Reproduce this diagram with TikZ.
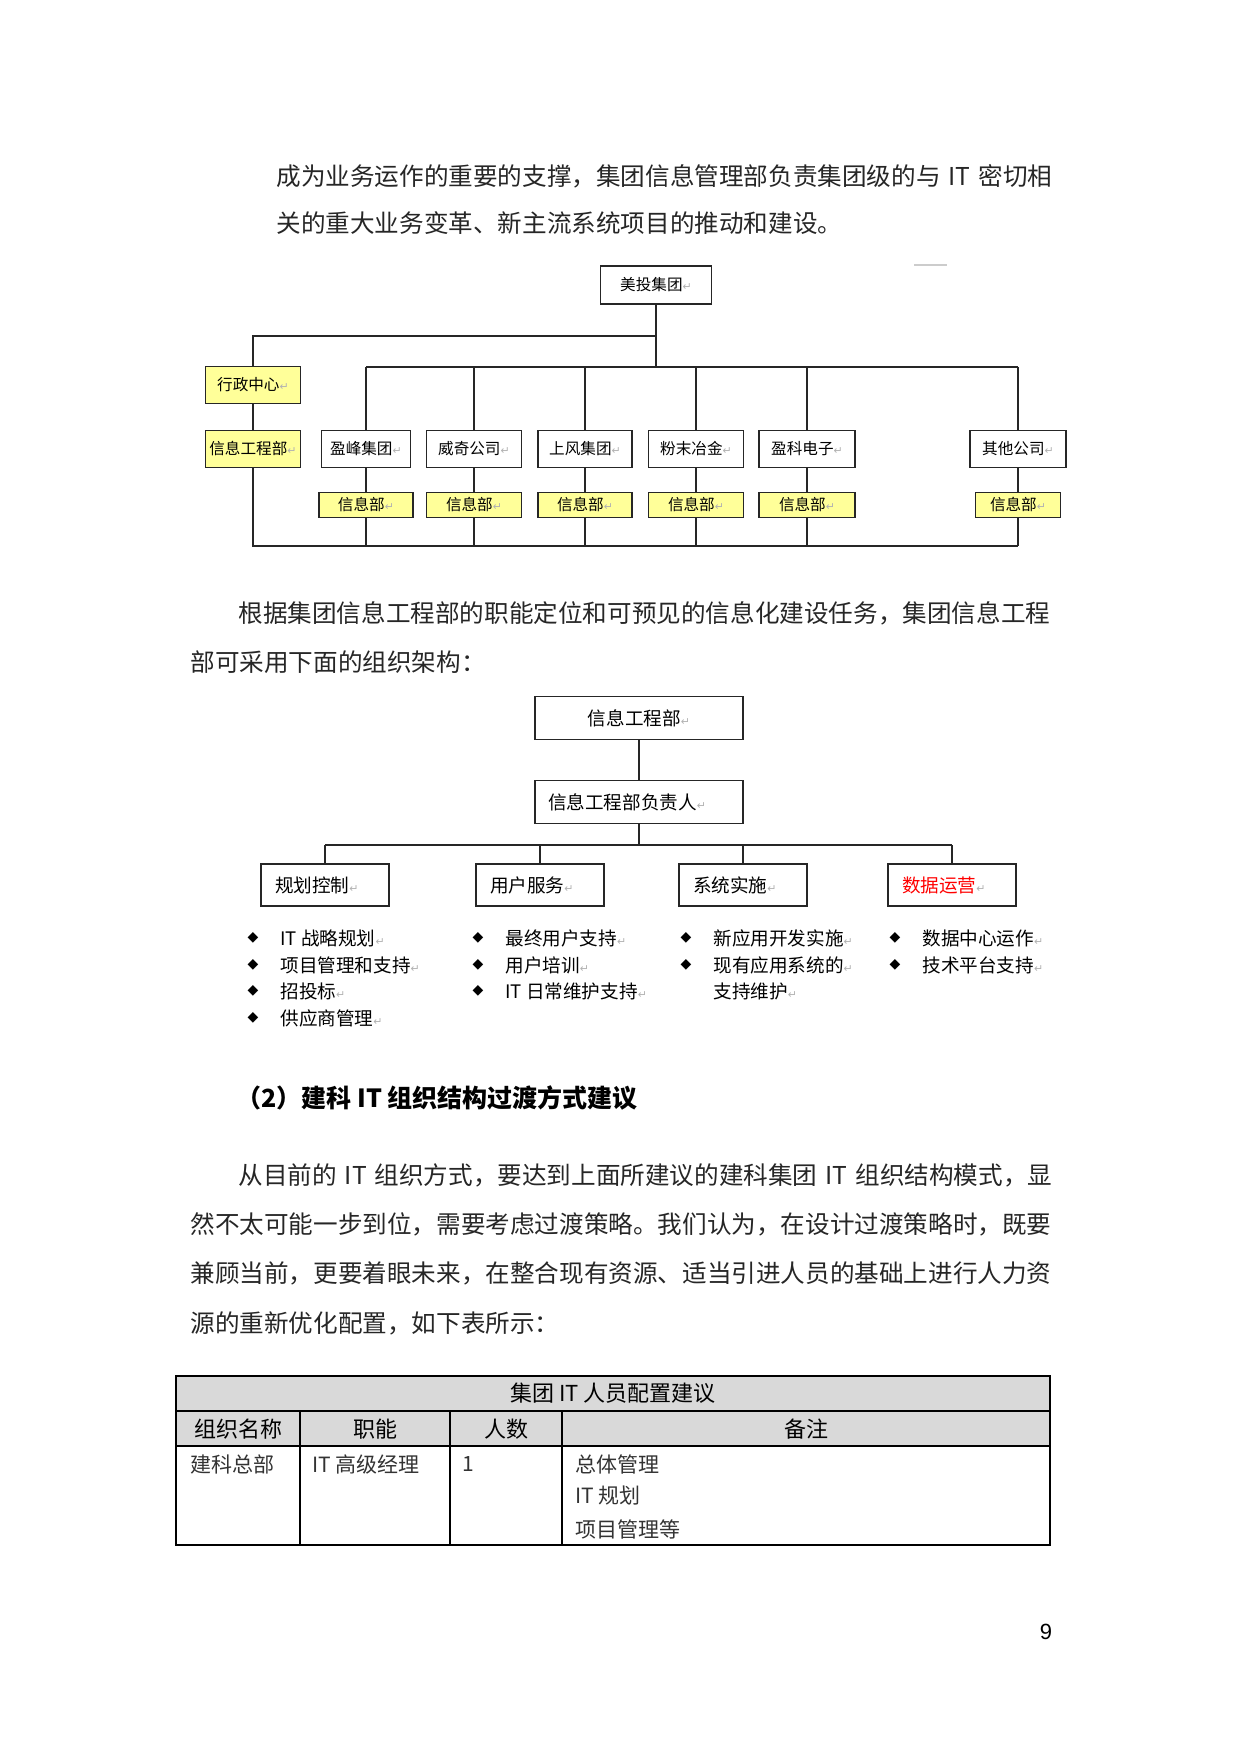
\documentclass[tikz,border=0pt]{standalone}
\usepackage{fontspec}
\setmainfont{Noto Sans CJK SC}
\newfontfamily\dvfont{DejaVu Sans}
\newfontfamily\arialfont{Liberation Sans}
\XeTeXlinebreaklocale "zh"
\XeTeXlinebreakskip=0pt plus 1.5pt
\usetikzlibrary{positioning}
\definecolor{boxyellow}{HTML}{FFFF99}
\definecolor{opsred}{HTML}{FF0000}
\newcommand{\fs}[1]{\fontsize{#1}{#1}\selectfont}
\newcommand{\rt}{{\dvfont\color{gray!60}\fontsize{5.5}{6}\selectfont ↵}}
\tikzset{
  link/.style={draw=black!85, line width=0.6pt},
  cobox/.style={draw=black!85, line width=0.6pt, fill=white, minimum height=18.5pt, inner sep=0pt, font=\fs{7.8}},
  yelbox/.style={cobox, fill=boxyellow},
  infobox/.style={yelbox, minimum height=12.5pt},
  hbox/.style={draw=black!85, line width=0.6pt, minimum width=104pt, minimum height=21.5pt, inner sep=0pt, font=\fs{9.3}},
  catbox/.style={draw=black!85, line width=0.6pt, text width=50pt, align=left, inner xsep=7pt, inner ysep=0pt, minimum height=21pt, font=\fs{9.3}},
  bul/.style={inner sep=0pt, font=\dvfont\fs{7}},
  item/.style={anchor=west, inner sep=0pt, font=\fs{9.3}},
  para/.style={anchor=west, inner sep=0pt, font=\fs{12.3}\color{black!85}},
  cell/.style={inner sep=0pt, font=\fs{10.5}},
}
\begin{document}
\begin{tikzpicture}[x=0.5pt,y=-0.5pt]
\useasboundingbox (0,0) rectangle (1241,1754);
% opening paragraph
\node[para] (p1) at (276,176) {\makebox[388pt][s]{成为业务运作的重要的支撑，集团信息管理部负责集团级的与 IT 密切相}};
\node[para] (p2) at (276,223) {关的重大业务变革、新主流系统项目的推动和建设。};
% group chart
\draw[gray!40, line width=0.8pt] (914,265) -- (947,265);
\node[cobox, minimum width=55.5pt, minimum height=19pt] (mt) at (656,285) {美投集团\rt};
\node[yelbox, minimum width=47.5pt] (xz) at (253,385) {行政中心\rt};
\node[yelbox, minimum width=47.5pt] (xg) at (253,449) {信息工程部\rt};
\foreach \n/\x/\w/\v/\t in {1/366/44.5/47/盈峰集团, 2/474/47.5/47.5/威奇公司, 3/585/47/47/上风集团, 4/696/47.5/47.5/粉末冶金, 5/807/48/48/盈科电子, 6/1018/48/42.5/其他公司}{
  \node[cobox, minimum width=\w pt] (c\n) at (\x,449) {\t\rt};
  \node[infobox, minimum width=\v pt] (i\n) at (\x,505) {信息部\rt};
}
\coordinate (top) at (656,367);
\coordinate (lft) at (253,336);
\coordinate (bot) at (253,546);
\draw[link] (mt.south) -- (top);
\draw[link] (mt.south |- lft) -- (lft) -- (xz.north);
\draw[link] (c1.north |- top) -- (c6.north |- top);
\foreach \n in {1,...,6}
  \draw[link] (c\n.north |- top) -- (c\n.north) (c\n.south) -- (i\n.north) (i\n.south) -- (i\n.south |- bot);
\draw[link] (xz.south) -- (xg.north) (xg.south) -- (bot) -- (i6.south |- bot);
% second paragraph
\node[para] (p3) at (238,613) {\makebox[407pt][s]{根据集团信息工程部的职能定位和可预见的信息化建设任务，集团信息工程}};
\node[para] (p4) at (190,662) {部可采用下面的组织架构：};
% department chart
\node[hbox] (h1) at (639,718) {信息工程部\rt};
\node[hbox, text width=91pt, align=left] (h2) at (639,802) {信息工程部负责人\rt};
\coordinate (mid) at (639,845);
\foreach \n/\x/\t in {1/325/规划控制, 2/540/用户服务, 3/743/系统实施, 4/952/{\color{opsred}数据运营}}
  \node[catbox] (k\n) at (\x,885) {\t\rt};
\draw[link] (h1) -- (h2);
\draw[link] (h2.south) -- (mid);
\draw[link] (k1.north |- mid) -- (k4.north |- mid);
\foreach \n in {1,...,4} \draw[link] (k\n.north |- mid) -- (k\n.north);
\foreach \bx/\y/\t [count=\i] in {253/938/IT 战略规划, 253/965/项目管理和支持, 253/991/招投标, 253/1018/供应商管理,
  478/938/最终用户支持, 478/965/用户培训, 478/991/IT 日常维护支持,
  686/938/新应用开发实施, 686/965/现有应用系统的,
  895/938/数据中心运作, 895/965/技术平台支持}{
  \node[bul] (b\i) at (\bx,\y) {◆};
  \node[item] (t\i) at (\bx+27,\y) {\t\rt};
}
\node[item] (t12) at (713,991) {支持维护\rt};
% heading
\node[anchor=west, inner sep=0pt, font=\fs{12.5}\bfseries] (hd) at (236,1098) {（2）建科 IT 组织结构过渡方式建议};
% third paragraph
\node[para] (p5) at (238,1175) {\makebox[407pt][s]{从目前的 IT 组织方式，要达到上面所建议的建科集团 IT 组织结构模式，显}};
\node[para] (p6) at (190,1224) {\makebox[431pt][s]{然不太可能一步到位，需要考虑过渡策略。我们认为，在设计过渡策略时，既要}};
\node[para] (p7) at (190,1273) {\makebox[431pt][s]{兼顾当前，更要着眼未来，在整合现有资源、适当引进人员的基础上进行人力资}};
\node[para] (p8) at (190,1323) {源的重新优化配置，如下表所示：};
% table
\fill[gray!30] (176,1376) rectangle (1050,1446);
\draw[line width=0.6pt] (176,1411) -- (1050,1411) (176,1446) -- (1050,1446);
\draw[line width=0.6pt] (300,1411) -- (300,1545) (450,1411) -- (450,1545);
\draw[line width=1pt] (562,1411) -- (562,1545);
\draw[line width=1.1pt] (176,1376) rectangle (1050,1545);
\node[cell, font=\fs{11}] (tt) at (613,1393) {集团 IT 人员配置建议};
\foreach \x/\t [count=\i] in {238/组织名称, 375/职能, 506/人数, 806/备注}
  \node[cell, font=\fs{11}] (th\i) at (\x,1429) {\t};
\node[cell, anchor=west, text=black!80] (d1) at (190,1464) {建科总部};
\node[cell, anchor=west, text=black!80] (d2) at (312,1464) {IT 高级经理};
\node[cell, anchor=west, text=black!80] (d3) at (462,1464) {1};
\node[cell, anchor=west, text=black!80] (d4) at (575,1464) {总体管理};
\node[cell, anchor=west, text=black!80] (d5) at (575,1496) {IT 规划};
\node[cell, anchor=west, text=black!80] (d6) at (575,1529) {项目管理等};
% page number
\node[inner sep=0pt, font=\arialfont\fs{11}] (pg) at (1046,1632) {9};
\end{tikzpicture}
\end{document}
